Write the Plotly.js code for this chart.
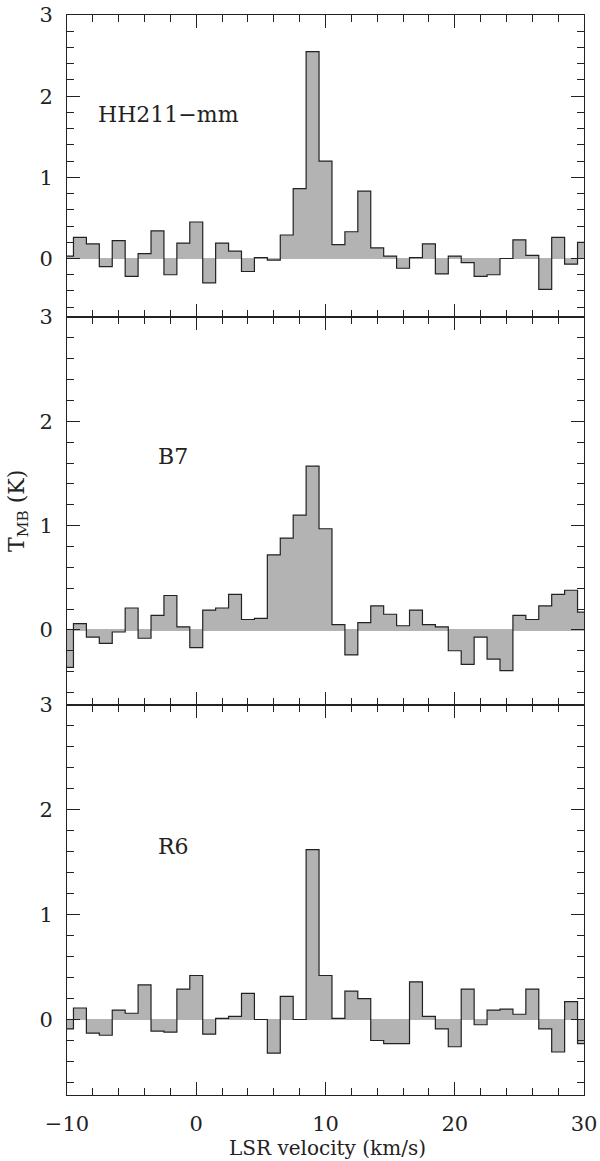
<!DOCTYPE html>
<html>
<head>
<meta charset="utf-8">
<script src="https://cdn.plot.ly/plotly-3.0.1.min.js"></script>
<style>html,body{margin:0;padding:0;background:#fff;}#chart{width:600px;height:1161px;}</style>
</head>
<body>
<div id="chart"></div>
<script>
// LSR velocity channel centres (km/s)
const velocity = [-10,-9,-8,-7,-6,-5,-4,-3,-2,-1,0,1,2,3,4,5,6,7,8,9,10,
                  11,12,13,14,15,16,17,18,19,20,21,22,23,24,25,26,27,28,29,30];

// T_MB (K) per channel
const hh211mm = [0.03,0.26,0.18,-0.10,0.22,-0.22,0.06,0.34,-0.20,0.19,0.45,
                 -0.30,0.19,0.09,-0.16,0.01,-0.02,0.29,0.86,2.55,1.20,
                 0.17,0.33,0.83,0.13,0.03,-0.12,0.01,0.18,-0.19,0.03,
                 -0.05,-0.22,-0.20,0.00,0.23,0.04,-0.38,0.26,-0.07,0.20];

const b7 = [-0.36,0.06,-0.07,-0.13,-0.02,0.21,-0.08,0.14,0.33,0.03,-0.17,
            0.19,0.21,0.34,0.10,0.11,0.72,0.88,1.10,1.57,0.97,
            0.05,-0.24,0.07,0.23,0.15,0.04,0.19,0.05,0.03,-0.20,
            -0.33,-0.07,-0.28,-0.39,0.14,0.10,0.23,0.34,0.38,0.17];

const r6 = [-0.09,0.11,-0.13,-0.15,0.09,0.06,0.33,-0.11,-0.12,0.29,0.42,
            -0.14,0.01,0.03,0.25,0.00,-0.32,0.22,0.00,1.62,0.42,
            0.01,0.27,0.20,-0.20,-0.23,-0.23,0.36,0.03,-0.09,-0.26,
            0.29,-0.05,0.09,0.10,0.05,0.29,-0.09,-0.31,0.17,-0.23];

const sources = ["HH211−mm", "B7", "R6"];
const series = [hh211mm, b7, r6];
const labelPos = [[-7.75, 1.78], [-3.15, 1.66], [-3.15, 1.65]];
const yTicks = [0, 1, 2, 3];
const xTicks = [-10, 0, 10, 20, 30];

const FONT = "DejaVu Serif, Liberation Serif, serif";
const INK = "#222";
const FILL = "#b3b3b3";

const domains = [[0.7204, 1], [0.3611, 0.7204], [0, 0.3611]];
const traces = [];
const layout = {
  width: 600, height: 1161,
  margin: {l: 67, r: 16, t: 15, b: 66},
  paper_bgcolor: "#fff", plot_bgcolor: "#fff",
  showlegend: false,
  font: {family: FONT, color: INK, size: 21},
  annotations: []
};

for (let i = 0; i < 3; i++) {
  const n = i === 0 ? "" : String(i + 1);
  traces.push({
    type: "scatter", mode: "lines",
    x: velocity, y: series[i],
    xaxis: "x" + n, yaxis: "y" + n,
    line: {shape: "hvh", color: INK, width: 1.2},
    fill: "tozeroy", fillcolor: FILL,
    hoverinfo: "skip"
  });
  const isBottom = i === 2;
  const xa = {
    range: [-10, 30], anchor: "y" + n,
    showgrid: false, zeroline: false,
    showline: true, linecolor: INK, linewidth: 1, mirror: "ticks",
    ticks: "inside", ticklen: 13, tickcolor: INK, tickwidth: 1,
    tickvals: xTicks,
    minor: {dtick: 2, tick0: 0, ticks: "inside", ticklen: 7, tickcolor: INK, showgrid: false},
    showticklabels: isBottom,
    tickfont: {family: FONT, size: 21, color: INK},
    ticklabelstandoff: 10
  };
  if (i > 0) xa.matches = "x";
  layout["xaxis" + n] = xa;
  layout["yaxis" + n] = {
    domain: domains[i], range: [-0.72, 3], anchor: "x" + n,
    showgrid: false,
    zeroline: true, zerolinecolor: FILL, zerolinewidth: 1.5,
    showline: true, linecolor: INK, linewidth: 1, mirror: "ticks",
    ticks: "inside", ticklen: 13, tickcolor: INK, tickwidth: 1,
    tickvals: yTicks,
    minor: {dtick: 0.2, tick0: 0, ticks: "inside", ticklen: 7, tickcolor: INK, showgrid: false},
    tickfont: {family: FONT, size: 21, color: INK},
    ticklabelstandoff: 9
  };
  layout.annotations.push({
    xref: "x" + n, yref: "y" + n,
    x: labelPos[i][0], y: labelPos[i][1],
    xanchor: "left", yanchor: "middle",
    text: sources[i], showarrow: false,
    font: {family: FONT, size: 22, color: INK}
  });
}

// x-axis title
layout.annotations.push({
  xref: "paper", yref: "paper",
  x: 0.503, y: -0.0611,
  xanchor: "center", yanchor: "bottom",
  showarrow: false, borderpad: 0,
  text: "LSR velocity (km/s)",
  font: {family: FONT, size: 20, color: INK}
});

// y-axis title
layout.annotations.push({
  xref: "paper", yref: "paper",
  x: -0.095, y: 0.5406,
  xanchor: "center", yanchor: "middle",
  textangle: -90, showarrow: false,
  text: "T<sub>MB</sub> (K)",
  font: {family: FONT, size: 22, color: INK}
});

Plotly.newPlot("chart", traces, layout, {displayModeBar: false, staticPlot: true});
</script>
</body>
</html>
